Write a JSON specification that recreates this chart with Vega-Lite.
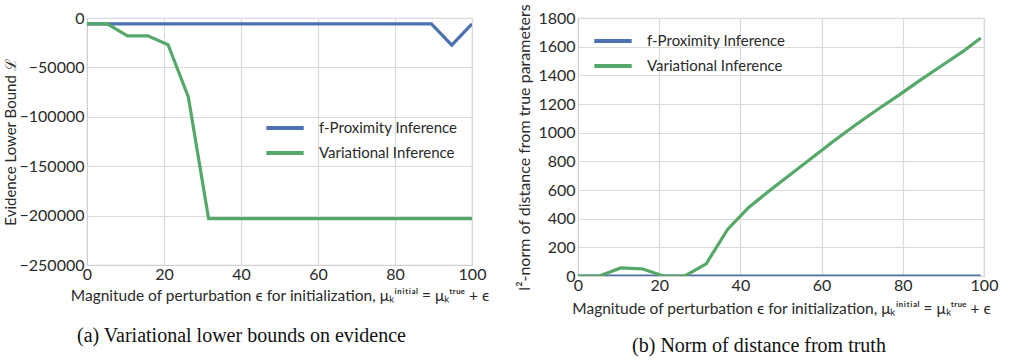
{
  "$schema": "https://vega.github.io/schema/vega-lite/v6.json",
  "background": "white",
  "padding": {"left": 2, "top": 3, "right": 2, "bottom": 2},
  "config": {
    "font": "Lato",
    "view": {"stroke": "#d8d8d8", "strokeWidth": 1.2},
    "axis": {
      "grid": true,
      "gridColor": "#dadada",
      "gridWidth": 1.2,
      "domainColor": "#d0d0d0",
      "ticks": false,
      "labelColor": "#2a2a2a",
      "titleColor": "#2a2a2a",
      "titleFontWeight": "normal",
      "labelFont": "Lato",
      "titleFont": "Lato"
    },
    "title": {"font": "Liberation Serif", "color": "#111111", "fontWeight": "normal"}
  },
  "datasets": {
    "elbo": [
      {"eps": 0, "method": "f-Proximity Inference", "value": -6000},
      {"eps": 5.26, "method": "f-Proximity Inference", "value": -6000},
      {"eps": 10.53, "method": "f-Proximity Inference", "value": -6000},
      {"eps": 15.79, "method": "f-Proximity Inference", "value": -6000},
      {"eps": 21.05, "method": "f-Proximity Inference", "value": -6000},
      {"eps": 26.32, "method": "f-Proximity Inference", "value": -6000},
      {"eps": 31.58, "method": "f-Proximity Inference", "value": -6000},
      {"eps": 36.84, "method": "f-Proximity Inference", "value": -6000},
      {"eps": 42.11, "method": "f-Proximity Inference", "value": -6000},
      {"eps": 47.37, "method": "f-Proximity Inference", "value": -6000},
      {"eps": 52.63, "method": "f-Proximity Inference", "value": -6000},
      {"eps": 57.89, "method": "f-Proximity Inference", "value": -6000},
      {"eps": 63.16, "method": "f-Proximity Inference", "value": -6000},
      {"eps": 68.42, "method": "f-Proximity Inference", "value": -6000},
      {"eps": 73.68, "method": "f-Proximity Inference", "value": -6000},
      {"eps": 78.95, "method": "f-Proximity Inference", "value": -6000},
      {"eps": 84.21, "method": "f-Proximity Inference", "value": -6000},
      {"eps": 89.47, "method": "f-Proximity Inference", "value": -6000},
      {"eps": 94.74, "method": "f-Proximity Inference", "value": -27500},
      {"eps": 100, "method": "f-Proximity Inference", "value": -6000},
      {"eps": 0, "method": "Variational Inference", "value": -6000},
      {"eps": 5.26, "method": "Variational Inference", "value": -6000},
      {"eps": 10.53, "method": "Variational Inference", "value": -18000},
      {"eps": 15.79, "method": "Variational Inference", "value": -18000},
      {"eps": 21.05, "method": "Variational Inference", "value": -27000},
      {"eps": 26.32, "method": "Variational Inference", "value": -80000},
      {"eps": 31.58, "method": "Variational Inference", "value": -203000},
      {"eps": 36.84, "method": "Variational Inference", "value": -203000},
      {"eps": 42.11, "method": "Variational Inference", "value": -203000},
      {"eps": 47.37, "method": "Variational Inference", "value": -203000},
      {"eps": 52.63, "method": "Variational Inference", "value": -203000},
      {"eps": 57.89, "method": "Variational Inference", "value": -203000},
      {"eps": 63.16, "method": "Variational Inference", "value": -203000},
      {"eps": 68.42, "method": "Variational Inference", "value": -203000},
      {"eps": 73.68, "method": "Variational Inference", "value": -203000},
      {"eps": 78.95, "method": "Variational Inference", "value": -203000},
      {"eps": 84.21, "method": "Variational Inference", "value": -203000},
      {"eps": 89.47, "method": "Variational Inference", "value": -203000},
      {"eps": 94.74, "method": "Variational Inference", "value": -203000},
      {"eps": 100, "method": "Variational Inference", "value": -203000}
    ],
    "dist": [
      {"eps": 0, "method": "f-Proximity Inference", "value": 0},
      {"eps": 5.26, "method": "f-Proximity Inference", "value": 0},
      {"eps": 10.53, "method": "f-Proximity Inference", "value": 0},
      {"eps": 15.79, "method": "f-Proximity Inference", "value": 0},
      {"eps": 21.05, "method": "f-Proximity Inference", "value": 0},
      {"eps": 26.32, "method": "f-Proximity Inference", "value": 0},
      {"eps": 31.58, "method": "f-Proximity Inference", "value": 0},
      {"eps": 36.84, "method": "f-Proximity Inference", "value": 0},
      {"eps": 42.11, "method": "f-Proximity Inference", "value": 0},
      {"eps": 47.37, "method": "f-Proximity Inference", "value": 0},
      {"eps": 52.63, "method": "f-Proximity Inference", "value": 0},
      {"eps": 57.89, "method": "f-Proximity Inference", "value": 0},
      {"eps": 63.16, "method": "f-Proximity Inference", "value": 0},
      {"eps": 68.42, "method": "f-Proximity Inference", "value": 0},
      {"eps": 73.68, "method": "f-Proximity Inference", "value": 0},
      {"eps": 78.95, "method": "f-Proximity Inference", "value": 0},
      {"eps": 84.21, "method": "f-Proximity Inference", "value": 0},
      {"eps": 89.47, "method": "f-Proximity Inference", "value": 0},
      {"eps": 94.74, "method": "f-Proximity Inference", "value": 0},
      {"eps": 99.2, "method": "f-Proximity Inference", "value": 0},
      {"eps": 0, "method": "Variational Inference", "value": 0},
      {"eps": 5.26, "method": "Variational Inference", "value": 0},
      {"eps": 10.53, "method": "Variational Inference", "value": 56},
      {"eps": 15.79, "method": "Variational Inference", "value": 50},
      {"eps": 21.05, "method": "Variational Inference", "value": 0},
      {"eps": 26.32, "method": "Variational Inference", "value": 0},
      {"eps": 31.58, "method": "Variational Inference", "value": 85},
      {"eps": 36.84, "method": "Variational Inference", "value": 325},
      {"eps": 42.11, "method": "Variational Inference", "value": 480},
      {"eps": 47.37, "method": "Variational Inference", "value": 600},
      {"eps": 52.63, "method": "Variational Inference", "value": 715},
      {"eps": 57.89, "method": "Variational Inference", "value": 830},
      {"eps": 63.16, "method": "Variational Inference", "value": 945},
      {"eps": 68.42, "method": "Variational Inference", "value": 1055},
      {"eps": 73.68, "method": "Variational Inference", "value": 1160},
      {"eps": 78.95, "method": "Variational Inference", "value": 1260},
      {"eps": 84.21, "method": "Variational Inference", "value": 1365},
      {"eps": 89.47, "method": "Variational Inference", "value": 1465},
      {"eps": 94.74, "method": "Variational Inference", "value": 1565},
      {"eps": 99.2, "method": "Variational Inference", "value": 1660}
    ]
  },
  "bounds": "flush",
  "spacing": 106,
  "resolve": {"legend": {"color": "independent"}},
  "hconcat": [
    {
      "width": 385,
      "height": 247,
      "data": {"name": "elbo"},
      "title": {"text": "(a) Variational lower bounds on evidence", "orient": "bottom", "fontSize": 20, "anchor": "middle", "frame": "group", "dx": -38, "offset": 22},
      "mark": {"type": "line", "strokeWidth": 3.2, "clip": true},
      "encoding": {
        "x": {"field": "eps", "type": "quantitative", "scale": {"domain": [0, 100], "nice": false},
          "axis": {"values": [0, 20, 40, 60, 80, 100], "labelFontSize": 16, "labelPadding": 1, "labelFlush": false,
            "title": "Magnitude of perturbation ϵ for initialization, μₖⁱⁿⁱᵗⁱᵃˡ = μₖᵗʳᵘᵉ + ϵ", "titleFontSize": 15.5, "titlePadding": 6}},
        "y": {"field": "value", "type": "quantitative", "scale": {"domain": [-250000, 0], "nice": false},
          "axis": {"values": [0, -50000, -100000, -150000, -200000, -250000], "format": "d", "labelFontSize": 16, "labelPadding": 3,
            "title": "Evidence Lower Bound ℒ", "titleFontSize": 15, "titlePadding": 1}},
        "color": {"field": "method", "type": "nominal",
          "scale": {"domain": ["f-Proximity Inference", "Variational Inference"], "range": ["#4c72b0", "#55a868"]},
          "legend": {"orient": "none", "legendX": 177, "legendY": 102, "title": null, "symbolType": "stroke", "symbolSize": 1400, "symbolStrokeWidth": 4, "clipHeight": 16, "rowPadding": 9, "labelFontSize": 15, "labelOffset": 13, "labelColor": "#2a2a2a", "padding": 0}}
      }
    },
    {
      "width": 406,
      "height": 258,
      "data": {"name": "dist"},
      "title": {"text": "(b) Norm of distance from truth", "orient": "bottom", "fontSize": 20, "anchor": "middle", "frame": "group", "dx": -22, "offset": 19},
      "mark": {"type": "line", "strokeWidth": 3.2, "clip": true},
      "encoding": {
        "x": {"field": "eps", "type": "quantitative", "scale": {"domain": [0, 100], "nice": false},
          "axis": {"values": [0, 20, 40, 60, 80, 100], "labelFontSize": 16, "labelPadding": 1, "labelFlush": false,
            "title": "Magnitude of perturbation ϵ for initialization, μₖⁱⁿⁱᵗⁱᵃˡ = μₖᵗʳᵘᵉ + ϵ", "titleFontSize": 15.5, "titlePadding": 8}},
        "y": {"field": "value", "type": "quantitative", "scale": {"domain": [0, 1800], "nice": false},
          "axis": {"values": [0, 200, 400, 600, 800, 1000, 1200, 1400, 1600, 1800], "format": "d", "labelFontSize": 16, "labelPadding": 3,
            "title": "l²-norm of distance from true parameters", "titleFontSize": 16, "titlePadding": 5}},
        "color": {"field": "method", "type": "nominal",
          "scale": {"domain": ["f-Proximity Inference", "Variational Inference"], "range": ["#4c72b0", "#55a868"]},
          "legend": {"orient": "none", "legendX": 14, "legendY": 15, "title": null, "symbolType": "stroke", "symbolSize": 1400, "symbolStrokeWidth": 4, "clipHeight": 16, "rowPadding": 9, "labelFontSize": 15, "labelOffset": 13, "labelColor": "#2a2a2a", "padding": 0}}
      }
    }
  ]
}
